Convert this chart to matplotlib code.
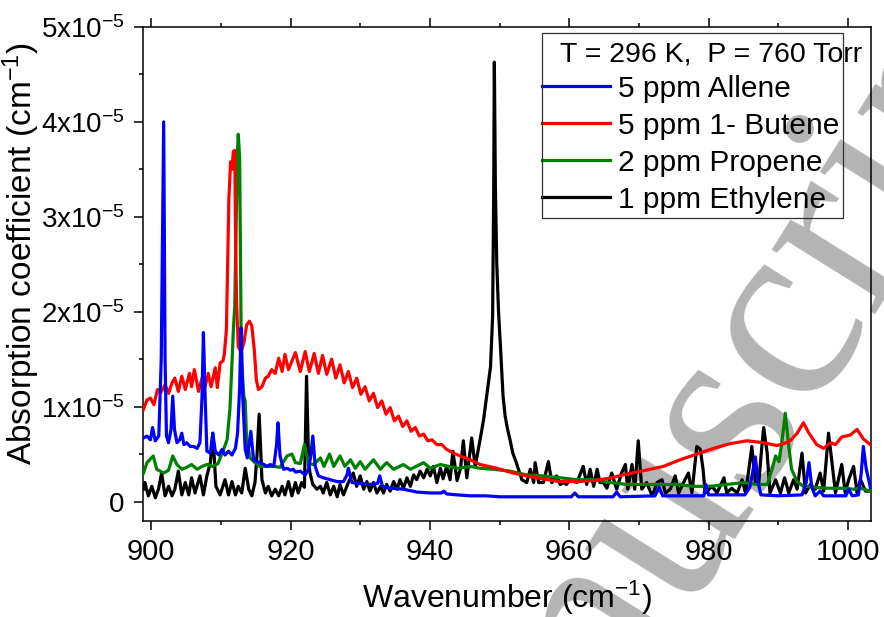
import matplotlib
matplotlib.use("Agg")
import matplotlib.pyplot as plt
from matplotlib.lines import Line2D
from matplotlib.patches import Rectangle
from matplotlib.ticker import MultipleLocator, FixedLocator, FixedFormatter

# absorption values below are in units of 1e-5 cm^-1
ABS_UNIT = 1e-5

allene_wn = [898.9, 899.4, 899.9, 900.2, 900.6, 901.1, 901.45, 901.8, 902.0, 902.2, 902.5,
             902.85, 903.1, 903.35, 903.7, 904.1, 904.4, 904.7, 905.1, 905.6, 906.1, 906.6,
             907.0, 907.3, 907.5, 907.75, 908.0, 908.5, 908.85, 909.2, 909.7, 910.2, 910.6,
             911.1, 911.6, 912.1, 912.4, 912.7, 912.9, 913.15, 913.5, 913.8, 914.3, 914.7,
             915.2, 915.7, 916.2, 916.6, 917.1, 917.6, 918.0, 918.2, 918.5, 919.0, 919.5,
             920.0, 920.4, 920.7, 921.4, 922.1, 922.6, 922.9, 923.2, 923.55, 924.0, 924.7,
             925.7, 926.7, 927.6, 928.1, 928.3, 928.8, 929.9, 931.4, 932.5, 932.8, 933.2,
             934.3, 936.2, 938.1, 940.05, 941.7, 942.0, 942.4, 943.9, 945.8, 948.0, 950.0,
             955.0, 960.3, 960.8, 961.3, 966.3, 966.8, 967.3, 972.3, 972.9, 973.4, 979.3,
             979.6, 980.0, 985.2, 985.9, 986.3, 986.7, 987.1, 987.5, 990.0, 993.4, 994.0,
             994.4, 994.8, 995.3, 996.0, 996.5, 998.0, 999.7, 1000.1, 1000.6, 1001.5, 1001.9,
             1002.2, 1002.6, 1003.2]
allene_abs = [0.67, 0.69, 0.65, 0.78, 0.64, 0.69, 1.5, 4.0, 1.5, 0.69, 0.62,
              0.76, 1.11, 0.76, 0.62, 0.65, 0.72, 0.6, 0.62, 0.58, 0.58, 0.56,
              0.62, 1.1, 1.78, 1.1, 0.53, 0.51, 0.72, 0.53, 0.49, 0.55, 0.49,
              0.53, 0.49, 0.56, 0.72, 1.2, 1.83, 1.1, 0.55, 0.46, 0.74, 0.44,
              0.42, 0.41, 0.39, 0.37, 0.39, 0.37, 0.6, 0.83, 0.48, 0.34, 0.35,
              0.33, 0.34, 0.31, 0.32, 0.28, 0.34, 0.48, 0.69, 0.37, 0.27, 0.25,
              0.23, 0.21, 0.21, 0.28, 0.35, 0.2, 0.19, 0.18, 0.19, 0.27, 0.16,
              0.14, 0.13, 0.1, 0.09, 0.09, 0.11, 0.08, 0.07, 0.06, 0.06, 0.05,
              0.05, 0.05, 0.09, 0.05, 0.05, 0.1, 0.05, 0.06, 0.15, 0.06, 0.06,
              0.18, 0.07, 0.07, 0.15, 0.3, 0.47, 0.2, 0.07, 0.06, 0.07, 0.2,
              0.41, 0.15, 0.06, 0.11, 0.06, 0.06, 0.06, 0.13, 0.06, 0.07, 0.3,
              0.58, 0.35, 0.15]

butene_wn = [898.9, 899.4, 899.9, 900.4, 900.9, 901.4, 902.0, 902.5, 903.0, 903.4, 903.9,
             904.4, 904.9, 905.5, 905.8, 906.2, 906.8, 907.3, 907.7, 908.2, 908.6, 909.2,
             909.5, 909.9, 910.3, 910.5, 910.8, 911.0, 911.15, 911.4, 911.6, 911.8, 912.0,
             912.1, 912.25, 912.5, 912.9, 913.3, 913.7, 914.1, 914.45, 914.8, 915.1, 915.4,
             915.9, 916.4, 916.8, 917.3, 917.8, 918.3, 918.8, 919.2, 919.7, 920.7, 921.4,
             922.1, 922.7, 923.4, 924.0, 924.6, 925.2, 925.9, 926.5, 927.1, 927.7, 928.3,
             928.9, 929.5, 930.1, 930.7, 931.3, 931.9, 932.5, 933.1, 933.7, 934.3, 934.9,
             935.5, 936.1, 936.7, 937.3, 937.9, 938.5, 939.1, 939.7, 940.3, 941.0, 941.7,
             942.4, 943.4, 944.35, 945.8, 947.2, 949.6, 952.0, 953.9, 956.0, 958.7, 961.0,
             963.5, 966.0, 968.3, 971.0, 973.5, 975.9, 978.3, 980.7, 983.1, 985.5, 987.9,
             989.8, 990.8, 991.7, 992.7, 993.6, 994.4, 995.5, 996.5, 997.5, 998.2, 999.1,
             1000.3, 1001.3, 1002.2, 1003.2]
butene_abs = [0.97, 1.07, 1.09, 1.02, 1.18, 1.15, 1.23, 1.14, 1.25, 1.3, 1.16,
              1.32, 1.18, 1.35, 1.21, 1.39, 1.16, 1.3, 1.2, 1.35, 1.21, 1.41,
              1.2, 1.46, 1.48, 1.55, 1.81, 2.58, 3.18, 3.58, 3.5, 3.69, 3.7,
              2.93, 2.13, 1.63, 1.58, 1.67, 1.86, 1.9, 1.85, 1.6, 1.28, 1.18,
              1.21, 1.3, 1.32, 1.39, 1.35, 1.51, 1.37, 1.55, 1.39, 1.57, 1.37,
              1.58, 1.37, 1.56, 1.35, 1.54, 1.34, 1.5, 1.3, 1.44, 1.25, 1.37,
              1.2, 1.3, 1.13, 1.21, 1.06, 1.14, 0.99, 1.06, 0.92, 0.99, 0.85,
              0.9, 0.79, 0.85, 0.74, 0.78, 0.69, 0.71, 0.64, 0.65, 0.6, 0.6,
              0.55, 0.51, 0.48, 0.44, 0.39, 0.35, 0.3, 0.27, 0.24, 0.21, 0.21,
              0.22, 0.25, 0.29, 0.33, 0.37, 0.44, 0.5, 0.56, 0.61, 0.64, 0.62,
              0.59, 0.61, 0.64, 0.72, 0.83, 0.72, 0.6, 0.56, 0.62, 0.6, 0.68,
              0.7, 0.76, 0.66, 0.6]

propene_wn = [898.9, 899.4, 900.3, 900.8, 901.8, 902.5, 903.1, 903.7, 904.4, 905.1, 905.8,
              906.6, 907.3, 908.0, 908.8, 909.6, 910.4, 910.9, 911.3, 911.6, 911.8, 912.0,
              912.2, 912.4, 912.5, 912.7, 912.8, 912.9, 913.0, 913.3, 913.5, 913.7, 914.2,
              914.9, 915.6, 917.6, 918.5, 919.0, 919.5, 920.2, 920.7, 921.4, 922.0, 922.6,
              923.3, 924.3, 924.8, 925.6, 926.2, 927.1, 927.8, 928.6, 929.3, 930.0, 930.7,
              931.9, 932.9, 933.8, 934.8, 936.2, 937.2, 939.1, 940.05, 941.5, 943.9, 945.8,
              947.2, 949.1, 951.5, 953.9, 956.3, 958.7, 961.1, 963.5, 965.9, 968.3, 970.7,
              973.1, 975.5, 977.8, 980.2, 982.6, 985.0, 986.9, 988.4, 989.1, 989.6, 990.1,
              990.5, 991.0, 991.5, 991.9, 992.7, 993.6, 995.1, 997.0, 999.4, 1000.8, 1001.8,
              1003.2]
propene_abs = [0.3, 0.41, 0.48, 0.34, 0.3, 0.33, 0.48, 0.39, 0.34, 0.36, 0.39,
               0.34, 0.37, 0.39, 0.37, 0.4, 0.55, 0.65, 0.97, 1.46, 1.81, 2.06,
               2.93, 3.7, 3.87, 3.63, 2.76, 1.88, 1.46, 1.11, 1.06, 0.65, 0.46,
               0.41, 0.37, 0.37, 0.36, 0.42, 0.48, 0.5, 0.41, 0.4, 0.6, 0.4,
               0.39, 0.46, 0.37, 0.5, 0.37, 0.48, 0.37, 0.44, 0.35, 0.42, 0.34,
               0.44, 0.34, 0.41, 0.34, 0.39, 0.34, 0.41, 0.35, 0.39, 0.35, 0.37,
               0.35, 0.34, 0.32, 0.28, 0.27, 0.25, 0.23, 0.23, 0.2, 0.18, 0.18,
               0.18, 0.18, 0.16, 0.16, 0.18, 0.2, 0.18, 0.18, 0.34, 0.48, 0.42,
               0.62, 0.93, 0.58, 0.34, 0.21, 0.16, 0.15, 0.14, 0.14, 0.13, 0.14,
               0.11]

ethylene_wn = [898.9, 899.1, 899.6, 900.1, 900.6, 901.05, 901.5, 902.0, 902.5, 903.0, 903.4,
               903.9, 904.4, 904.9, 905.4, 905.8, 906.3, 907.0, 907.5, 908.0, 908.5, 908.85,
               909.3, 909.9, 910.6, 911.1, 911.6, 912.1, 912.5, 913.0, 913.5, 914.0, 914.45,
               914.9, 915.2, 915.5, 915.9, 916.4, 916.8, 917.3, 917.8, 918.3, 918.8, 919.2,
               919.7, 920.2, 920.7, 921.1, 921.6, 922.0, 922.3, 922.6, 922.8, 923.2, 923.8,
               924.3, 924.7, 925.2, 925.7, 926.2, 926.7, 927.1, 927.6, 928.3, 929.0, 929.5,
               930.0, 930.5, 930.95, 931.4, 931.9, 932.4, 932.9, 933.35, 933.8, 934.3, 934.8,
               935.3, 935.7, 936.2, 936.7, 937.2, 937.65, 938.1, 938.6, 939.1, 939.6, 940.05,
               940.5, 941.0, 941.5, 941.9, 942.4, 942.9, 943.3, 943.9, 944.4, 944.8, 945.3,
               946.0, 946.5, 947.2, 947.7, 948.2, 948.7, 949.0, 949.15, 949.25, 949.4, 949.6,
               949.85, 950.1, 950.5, 950.8, 951.15, 951.5, 951.9, 952.4, 952.7, 953.2, 953.9,
               954.4, 954.9, 955.1, 955.6, 956.3, 957.0, 957.5, 958.2, 958.7, 959.2, 959.6,
               960.1, 961.1, 962.0, 962.5, 963.0, 963.5, 964.0, 964.4, 964.9, 965.4, 966.1,
               966.8, 967.5, 968.05, 968.4, 969.0, 969.4, 969.9, 970.4, 971.1, 971.9, 972.6,
               973.3, 973.8, 974.5, 975.2, 975.7, 976.4, 977.1, 977.6, 978.3, 978.8, 979.2,
               979.5, 980.5, 981.2, 982.2, 982.6, 983.3, 984.1, 984.8, 985.3, 985.7, 986.2,
               986.7, 987.2, 987.6, 987.9, 988.4, 988.8, 989.6, 990.3, 990.9, 991.5, 992.2,
               992.7, 993.4, 993.9, 994.6, 995.3, 996.0, 996.5, 997.2, 997.7, 998.2, 999.1,
               999.6, 1000.1, 1000.8, 1001.3, 1001.8, 1002.5, 1003.2]
ethylene_abs = [0.13, 0.2, 0.06, 0.16, 0.04, 0.13, 0.3, 0.06, 0.16, 0.06, 0.13,
                0.32, 0.07, 0.2, 0.07, 0.25, 0.09, 0.27, 0.07, 0.27, 0.41, 0.72,
                0.16, 0.07, 0.23, 0.07, 0.21, 0.07, 0.16, 0.09, 0.35, 0.13, 0.06,
                0.2, 0.5, 0.92, 0.23, 0.09, 0.16, 0.06, 0.13, 0.06, 0.16, 0.07,
                0.21, 0.06, 0.2, 0.09, 0.2, 0.15, 1.32, 0.4, 0.3, 0.18, 0.13,
                0.16, 0.09, 0.2, 0.07, 0.16, 0.05, 0.18, 0.07, 0.2, 0.3, 0.16,
                0.27, 0.13, 0.21, 0.11, 0.2, 0.09, 0.16, 0.09, 0.18, 0.11, 0.21,
                0.13, 0.23, 0.14, 0.25, 0.16, 0.28, 0.23, 0.32, 0.25, 0.34, 0.27,
                0.37, 0.2, 0.35, 0.24, 0.37, 0.23, 0.53, 0.22, 0.35, 0.64, 0.25,
                0.67, 0.37, 0.65, 0.86, 1.14, 1.42, 1.95, 3.2, 4.63, 3.3, 2.5,
                2.0, 1.67, 1.11, 0.9, 0.76, 0.65, 0.51, 0.41, 0.34, 0.23, 0.2,
                0.34, 0.2, 0.41, 0.2, 0.2, 0.42, 0.2, 0.27, 0.18, 0.2, 0.18,
                0.23, 0.2, 0.37, 0.18, 0.34, 0.16, 0.34, 0.2, 0.2, 0.14, 0.3,
                0.13, 0.3, 0.39, 0.13, 0.39, 0.13, 0.64, 0.13, 0.2, 0.06, 0.2,
                0.23, 0.09, 0.13, 0.27, 0.09, 0.2, 0.3, 0.09, 0.58, 0.55, 0.34,
                0.09, 0.16, 0.09, 0.25, 0.09, 0.14, 0.09, 0.23, 0.09, 0.3, 0.58,
                0.2, 0.2, 0.55, 0.78, 0.51, 0.09, 0.23, 0.09, 0.25, 0.09, 0.23,
                0.13, 0.51, 0.09, 0.18, 0.13, 0.3, 0.11, 0.72, 0.41, 0.09, 0.39,
                0.09, 0.23, 0.37, 0.09, 0.23, 0.11, 0.11]

labels = ["5 ppm Allene", "5 ppm 1- Butene", "2 ppm Propene", "1 ppm Ethylene"]
colors = ["#0000ff", "#ff0000", "#008000", "#000000"]
condition_text = "T = 296 K,  P = 760 Torr"

xticks = [900, 920, 940, 960, 980, 1000]
yticks = [0, 1, 2, 3, 4, 5]
ytick_labels = ["0", "1x10$^{-5}$", "2x10$^{-5}$", "3x10$^{-5}$", "4x10$^{-5}$", "5x10$^{-5}$"]

plt.rcParams["font.family"] = ["Liberation Sans", "DejaVu Sans"]
plt.rcParams["mathtext.fontset"] = "custom"
plt.rcParams["mathtext.rm"] = "Liberation Sans"
plt.rcParams["mathtext.it"] = "Liberation Sans:italic"
plt.rcParams["mathtext.bf"] = "Liberation Sans:bold"

fig = plt.figure(figsize=(8.84, 6.17), dpi=100, facecolor="white")
ax = fig.add_axes([0.1623, 0.1564, 0.8230, 0.7998])
ax.set_facecolor("none")

# grey diagonal watermark behind the plot
fig.text(0.4835, -0.653, "Manuscript", rotation=58, rotation_mode="anchor",
         ha="left", va="baseline", fontsize=190, family="Liberation Serif",
         color="#b4b4b4", zorder=-5)

series = [
    (ethylene_wn, ethylene_abs, colors[3], 2),
    (propene_wn, propene_abs, colors[2], 3),
    (butene_wn, butene_abs, colors[1], 4),
    (allene_wn, allene_abs, colors[0], 5),
]
for wn, vals, col, z in series:
    ax.plot(wn, [v * ABS_UNIT for v in vals], color=col, lw=2.3,
            solid_joinstyle="round", zorder=z)

ax.set_xlim(898.9, 1003.3)
ax.set_ylim(-0.2 * ABS_UNIT, 5 * ABS_UNIT)

ax.xaxis.set_major_locator(FixedLocator(xticks))
ax.xaxis.set_minor_locator(MultipleLocator(10))
ax.yaxis.set_major_locator(FixedLocator([t * ABS_UNIT for t in yticks]))
ax.yaxis.set_major_formatter(FixedFormatter(ytick_labels))
ax.yaxis.set_minor_locator(MultipleLocator(0.5 * ABS_UNIT))

ax.tick_params(axis="both", which="both", direction="out", width=1.1,
               top=True, right=False)
ax.tick_params(axis="x", labelsize=21)
ax.tick_params(axis="y", labelsize=20)
ax.tick_params(axis="both", which="major", length=6.5)
ax.tick_params(axis="both", which="minor", length=3.2)
ax.tick_params(axis="x", which="major", pad=6)
ax.tick_params(axis="y", which="major", pad=7)
for sp in ax.spines.values():
    sp.set_linewidth(1.1)

ax.set_xlabel("Wavenumber (cm$^{-1}$)", fontsize=23, labelpad=9)
ax.set_ylabel("Absorption coefficient (cm$^{-1}$)", fontsize=24)
ax.yaxis.set_label_coords(-0.139, 0.542)

# legend: frame and condition line drawn separately so the title may overrun the box
handles = [Line2D([], [], color=c, lw=2.3) for c in colors]
ax.legend(handles, labels, loc="upper left", bbox_to_anchor=(0.548, 0.903),
          frameon=False, borderpad=0, borderaxespad=0, handlelength=2.27,
          handletextpad=0.27, labelspacing=0.3, fontsize=21.5)
ax.add_patch(Rectangle((0.5474, 0.613), 0.4146, 0.374, transform=ax.transAxes,
                       fill=False, lw=0.9, edgecolor="#303030", zorder=6))
ax.text(0.5725, 0.945, condition_text, transform=ax.transAxes, fontsize=20.5,
        ha="left", va="center", zorder=7)

fig.savefig("out.png", dpi=100, facecolor="white")
